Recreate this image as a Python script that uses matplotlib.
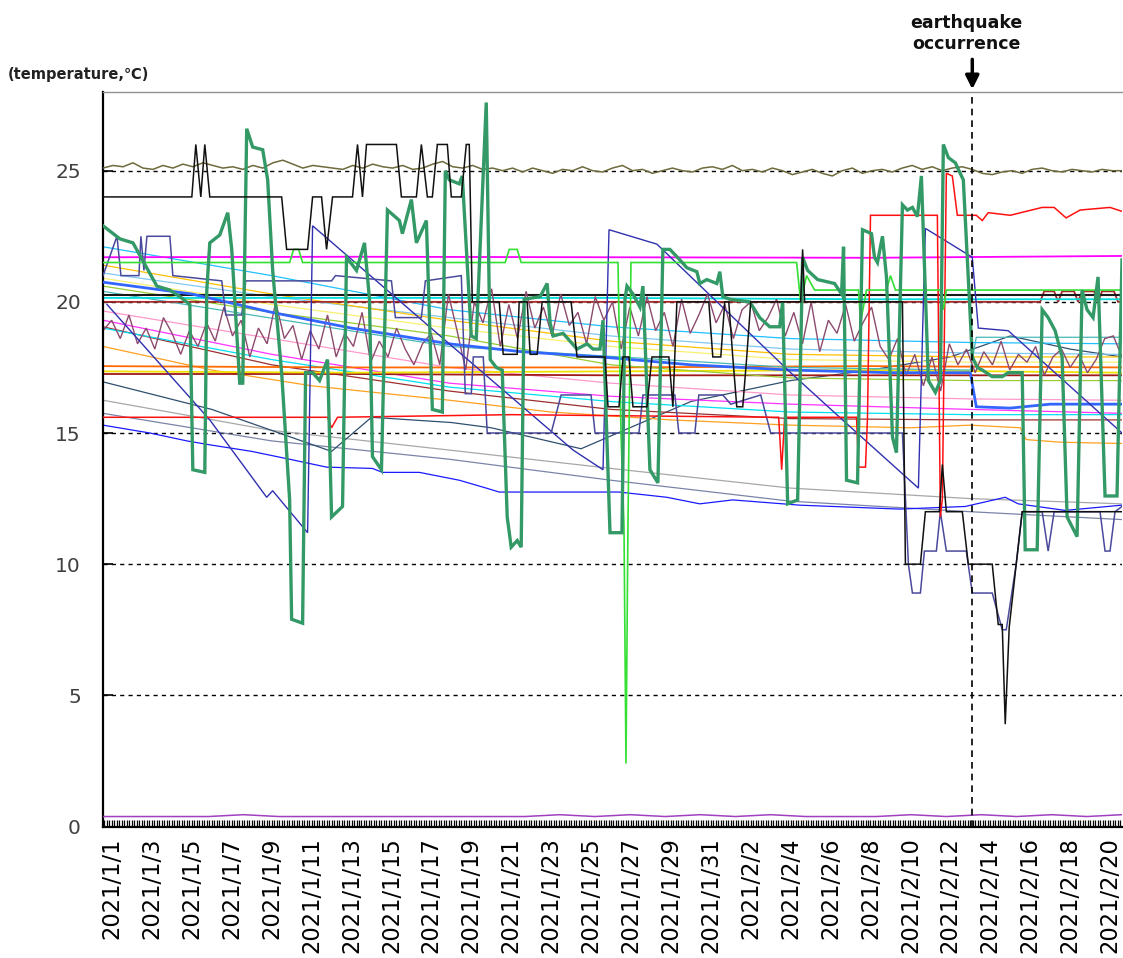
import datetime
import matplotlib
matplotlib.use("Agg")
import matplotlib.pyplot as plt
import numpy as np

plt.rcParams['font.family'] = ['DejaVu Sans']

# x is days after 2021/1/1 (data logged every 3 hours), y is temperature in C
x_left, x_right = -0.45, 50.6
quake_day = 43.1

# noisy near-25 sensor (evenly sampled across the span)
olive_t = [25.1, 25.2, 25.15, 25.3, 25.1, 25.05, 25.2, 25.1, 25.25, 25.15, 25.3, 25.2, 25.1,
           25.15, 25.05, 25.2, 25.1, 25.3, 25.4, 25.25, 25.1, 25.2, 25.15, 25.1, 25.05, 25.2,
           25.1, 25.25, 25.15, 25.1, 25.2, 25.05, 25.1, 25.25, 25.35, 25.15, 25.1, 25.2, 25.05,
           25.1, 25.0, 25.1, 24.95, 25.1, 25.0, 24.9, 25.05, 25.0, 25.15, 25.0, 24.95, 25.1,
           25.2, 25.0, 25.05, 24.9, 25.0, 25.1, 25.0, 24.95, 25.1, 25.15, 25.05, 25.2, 25.0,
           25.05, 24.95, 25.1, 25.0, 24.85, 24.95, 25.05, 24.9, 24.8, 25.0, 25.1, 24.9, 25.0,
           25.05, 24.95, 25.1, 25.2, 25.05, 25.15, 25.0, 25.1, 25.15, 25.05, 24.9, 24.85, 24.95,
           25.0, 24.9, 25.05, 25.1, 25.0, 24.95, 25.05, 25.0, 24.95, 25.05, 25.0, 25.0]

# zigzag sensor around 18-20
purple_t = [18.9, 19.3, 18.6, 19.5, 18.4, 19.0, 18.2, 19.4, 18.8, 18.0, 18.9, 18.3,
            19.2, 18.5, 19.8, 18.7, 19.3, 17.9, 19.0, 18.4, 20.0, 18.6, 19.1, 17.8,
            18.9, 18.2, 19.5, 17.9, 18.8, 18.3, 19.6, 17.7, 18.5, 17.9, 19.0, 18.2, 17.6, 18.4,
            18.8, 17.6, 20.3, 18.9, 17.4, 20.0, 19.2, 20.5, 18.3, 19.9, 18.6, 20.4, 19.0, 19.8,
            18.7, 20.3, 19.1, 19.6, 18.4, 20.2, 19.3,
            20.0, 18.2, 19.8, 18.7, 20.2, 18.9, 19.6, 18.3, 20.1, 18.8, 19.5, 20.3, 19.2, 19.9,
            18.6, 19.7, 20.0, 18.9, 19.4, 20.1, 18.7,
            19.6, 18.4, 20.0, 18.1, 19.3, 18.8, 19.9, 18.5, 19.2, 19.8, 18.3, 17.8, 18.6, 17.2,
            18.0, 16.8, 17.9, 16.6, 18.4, 17.6, 18.2,
            17.3, 18.1, 17.6, 18.5, 17.4, 18.0, 17.7, 18.3, 17.2, 17.9, 18.2, 17.5, 18.0, 17.3,
            17.8, 18.6, 18.7, 17.9]

# sensor lying at the floor of the chart
floor_t = [0.38, 0.38, 0.38, 0.38, 0.45, 0.38, 0.38, 0.38, 0.38, 0.38, 0.38, 0.38, 0.38,
           0.45, 0.38, 0.45, 0.38, 0.45, 0.38, 0.45, 0.38, 0.38, 0.38, 0.45, 0.38, 0.45, 0.38,
           0.45, 0.38, 0.45]

# big swinging sensor (thick green)
green_d = [-0.45, 0.4, 1.05, 2.25, 2.9, 3.4, 3.9, 4.05, 4.65, 4.75, 4.9, 5.4, 5.8, 6.0, 6.4,
           6.55, 6.75, 7.05, 7.55, 7.8, 8.05, 8.5, 8.9, 9.0, 9.55, 9.7, 10.05, 10.4, 10.8,
           11.0, 11.55, 11.75, 12.25, 12.65, 12.9, 13.05, 13.5, 13.8, 14.4, 14.55, 15.0,
           15.25, 15.75, 16.05, 16.55, 16.7, 16.9, 17.4, 17.55, 18.0, 18.25, 18.75, 18.95,
           19.25, 19.55, 19.8, 20.0, 20.3, 20.5, 20.65, 21.45, 21.8, 21.95, 22.1, 22.6, 23.3,
           23.8, 24.1, 24.45, 24.6, 24.95, 25.55, 25.7, 25.8, 26.1, 26.45, 26.6, 26.95, 27.35,
           27.6, 27.95, 28.45, 28.8, 29.3, 29.45, 29.8, 30.3, 30.45, 30.6, 30.95, 31.95, 32.45,
           32.95, 33.45, 33.6, 33.85, 34.35, 34.6, 34.85, 35.35, 36.2, 36.55, 36.65, 36.8,
           37.35, 37.6, 38.05, 38.2, 38.35, 38.6, 38.8, 39.1, 39.3, 39.6, 39.85, 40.1, 40.35,
           40.55, 40.9, 41.25, 41.5, 41.65, 41.9, 42.25, 42.65, 43.1, 43.35, 43.6, 44.1, 44.6,
           44.9, 45.6, 45.75, 46.35, 46.6, 46.9, 47.25, 47.6, 47.85, 48.35, 48.6, 48.85, 49.15,
           49.4, 49.75, 50.35, 50.6]
green_t = [22.9, 22.4, 22.25, 20.6, 20.45, 20.2, 19.9, 13.6, 13.5, 20.45, 22.25, 22.55, 23.4,
           22.0, 16.9, 16.9, 26.6, 25.9, 25.8, 24.65, 21.2, 17.3, 12.45, 7.9, 7.75, 17.3, 17.3,
           17.0, 17.8, 11.8, 12.2, 21.7, 21.2, 22.25, 20.1, 14.1, 13.6, 23.5, 23.1, 22.6, 23.9,
           22.25, 23.1, 15.9, 15.8, 25.0, 24.65, 24.5, 24.8, 18.7, 18.6, 27.6, 17.8, 17.5, 17.4,
           11.8, 10.65, 10.9, 10.65, 20.1, 20.2, 20.7, 19.2, 18.7, 18.8, 18.2, 18.4, 18.2, 18.2,
           19.3, 11.2, 11.2, 20.1, 20.6, 20.3, 19.8, 20.6, 13.6, 13.1, 22.0, 22.0, 21.6, 21.3,
           21.15, 20.7, 20.85, 20.7, 21.15, 20.2, 20.1, 20.0, 19.4, 19.05, 19.05, 20.0, 12.3,
           12.45, 21.7, 21.2, 20.85, 20.7, 20.3, 22.1, 13.2, 13.1, 22.75, 22.6, 21.7, 21.5, 22.5,
           20.95, 14.85, 14.25, 23.7, 23.5, 23.6, 23.25, 24.8, 17.0, 16.55, 17.0, 26.0, 25.5,
           25.3, 24.65, 17.9, 17.5, 17.4, 17.15, 17.15, 17.3, 17.3, 10.55, 10.55, 19.7, 19.4,
           18.9, 17.9, 11.8, 11.05, 20.45, 19.7, 19.4, 20.95, 12.6, 12.6, 21.6]

# step sensor (thin black)
black_d = [-0.45, 4.0, 4.2, 4.45, 4.65, 4.9, 8.5, 8.75, 9.8, 10.05, 10.5, 10.75, 11.05, 12.05,
           12.3, 12.55, 12.75, 14.25, 14.5, 15.25, 15.5, 15.8, 16.05, 16.3, 16.8, 17.0, 17.5,
           17.75, 17.9, 18.05, 19.4, 19.6, 20.3, 20.4, 20.8, 20.95, 21.3, 21.55, 23.0, 23.3,
           24.7, 24.85, 25.4, 25.6, 25.9, 26.1, 26.8, 27.05, 27.9, 28.1, 28.3, 29.9, 30.1,
           30.5, 30.7, 30.9, 31.1, 31.3, 31.6, 31.8, 32.0, 34.5, 34.6, 34.7, 39.6, 39.75, 40.5,
           40.75, 41.45, 41.6, 41.8, 42.6, 42.9, 44.1, 44.4, 44.6, 44.75, 44.95, 45.3, 45.6,
           50.6]
black_t = [24, 24, 26, 24, 26, 24, 24, 22, 22, 24, 24, 22, 24, 24,
           26, 24, 26, 26, 24, 24, 26, 24, 24, 26, 26, 24, 24,
           26, 26, 20.0, 20.0, 18.0, 18.0, 20.0, 20.0, 18.0, 18.0, 20.0, 20.0, 17.9,
           17.9, 16.0, 16.0, 17.9, 17.9, 16.0, 16.0, 17.9, 17.9, 16.0, 20.0, 20.0, 17.9,
           17.9, 20.0, 20.0, 17.9, 16.0, 16.0, 17.9, 20.0, 20.0, 22.0, 20.0, 20.0, 10.0, 10.0,
           12.0, 12.0, 13.8, 12.0, 12.0, 10.0, 10.0, 7.7, 7.7, 3.9, 7.6, 10.0, 12.0,
           12.0]

# sawtooth sensor (medium blue, straight falls then resets)
saw_d = [-0.25, 4.9, 7.75, 8.05, 9.8, 10.05, 16.9, 23.1, 24.6, 24.9, 27.3, 34.0, 36.6,
         40.4, 40.75, 43.1, 43.4, 44.9, 50.6]
saw_t = [19.9, 15.5, 12.55, 12.8, 11.2, 22.9, 18.4, 14.35, 13.6, 22.75, 22.2, 17.3, 15.5,
         12.9, 22.8, 21.7, 19.0, 18.9, 15.0]

# slate blue step sensor
navy_d = [-0.45, 0.25, 0.45, 1.35, 1.45, 1.6, 1.75, 2.9, 3.05, 5.5, 5.7, 6.5, 6.7, 11.0,
          11.2, 14.0, 14.2, 15.5, 15.7, 17.5, 17.7, 18.0, 18.1, 18.6, 18.8, 22.0, 22.5, 24.0,
          24.2, 26.4, 26.6, 28.2, 28.4, 29.2, 29.4, 30.6, 31.0, 32.5, 33.0, 39.6, 39.9, 40.1,
          40.5, 40.7, 41.3, 41.5, 41.8, 42.8, 43.1, 44.1, 44.6, 44.8, 45.3, 45.6, 46.6, 46.9,
          47.2, 49.5, 49.75, 50.0, 50.25, 50.6]
navy_t = [21.0, 22.5, 21.0, 21.0, 22.5, 21.2, 22.5, 22.5, 21.0, 20.8, 19.5, 19.5, 20.8, 20.8,
          21.0, 20.8, 19.4, 19.4, 20.8, 21.0, 16.5, 16.5, 17.9, 17.9, 15.0, 15.0, 16.45, 16.45,
          15.0, 15.0, 16.45, 16.45, 15.0, 15.0, 16.45, 16.45, 16.1, 16.45, 15.0, 15.0, 10.0,
          8.9, 8.9, 10.5, 10.5, 12.0, 10.5, 10.5, 8.9, 8.9, 7.5, 7.5, 10.0, 12.0, 12.0, 10.5,
          12.0, 12.0, 10.5, 10.5, 12.0, 12.2]

# bright green sensor with the deep drop on 1/27
lime_d = [-0.45, 8.9, 9.1, 9.35, 9.55, 19.7, 19.9, 20.3, 20.5, 25.35, 25.5, 25.65, 25.75,
          25.85, 26.0, 34.3, 34.5, 34.8, 35.2, 37.4, 37.5, 37.8, 38.8, 39.0, 39.25, 41.5,
          41.65, 41.8, 50.6]
lime_t = [21.5, 21.5, 22.0, 22.0, 21.5, 21.5, 22.0, 22.0, 21.5, 21.5, 15.0, 11.5, 2.4,
          11.5, 21.5, 21.5, 20.0, 21.0, 20.45, 20.45, 19.2, 20.45, 20.45, 21.0, 20.45, 20.45,
          19.7, 20.45, 20.45]

# red sensor that jumps up before the quake
red_d = [-0.45, 10.8, 11.0, 11.3, 20.0, 33.4, 33.55, 33.7, 37.3, 37.4, 37.75, 37.85, 38.0,
         41.35, 41.5, 41.6, 41.8, 42.1, 42.35, 43.3, 43.6, 43.9, 45.0, 46.6, 47.2, 47.8,
         48.5, 50.0, 50.6]
red_t = [15.6, 15.6, 15.2, 15.6, 15.7, 15.6, 13.6, 15.6, 15.6, 13.7, 13.7, 15.6, 23.3,
         23.3, 11.8, 12.5, 24.9, 24.8, 23.3, 23.3, 23.1, 23.4, 23.3, 23.6, 23.6, 23.2,
         23.5, 23.6, 23.45]

# slowly drifting sensors (day, value) pairs
drift_d = [-0.45, 8.0, 16.9, 25.0, 34.0, 43.0, 50.6]
skyblue_t = [22.1, 21.0, 19.7, 19.05, 18.6, 18.45, 18.4]
gold_t = [21.4, 20.3, 19.3, 18.5, 18.0, 17.9, 17.9]
lightblue_t = [21.1, 20.2, 19.4, 18.7, 18.2, 18.05, 18.0]
paleyellow_t = [20.9, 19.9, 19.0, 18.3, 17.8, 17.7, 17.7]
yellowgreen_t = [20.6, 19.6, 18.7, 17.6, 17.1, 17.0, 17.0]
pink_t = [19.65, 18.6, 17.5, 16.9, 16.45, 16.3, 16.25]
magenta2_t = [19.3, 18.0, 16.9, 16.4, 16.1, 15.9, 15.75]
cyan2_t = [19.0, 17.8, 16.75, 16.2, 15.8, 15.7, 15.7]
brown2_t = [19.05, 17.6, 16.6, 15.9, 15.55, 15.5, 15.5]
gray_t = [16.25, 15.1, 14.35, 13.65, 12.9, 12.5, 12.3]
slategray_t = [15.75, 14.7, 14.0, 13.2, 12.4, 12.0, 11.7]

royal_d = [-0.45, 4.0, 8.0, 12.0, 16.9, 20.5, 24.5, 29.0, 34.0, 39.0, 43.0, 43.3, 45.0,
           47.0, 50.6]
royal_t = [20.75, 20.3, 19.6, 19.0, 18.4, 18.1, 17.9, 17.6, 17.4, 17.3, 17.3, 16.0, 15.95,
           16.1, 16.1]

aqua_d = [-0.45, 16.9, 34.0, 43.0, 43.3, 50.6]
aqua_t = [20.4, 18.3, 17.5, 17.4, 18.65, 18.65]

orange_d = [-0.45, 5.0, 10.0, 16.9, 22.0, 28.0, 34.0, 40.0, 43.0, 45.5, 45.8, 47.5, 50.6]
orange_t = [18.3, 17.4, 16.8, 16.25, 15.8, 15.5, 15.3, 15.2, 15.3, 15.2, 14.75, 14.65, 14.6]

slate_d = [-0.45, 5.0, 11.0, 13.0, 17.0, 19.0, 23.5, 29.0, 34.0, 38.0, 42.0, 45.0, 48.0,
           50.6]
slate_t = [16.95, 15.9, 14.3, 15.6, 15.4, 15.2, 14.4, 16.2, 17.0, 17.4, 17.9, 18.7, 18.2,
           17.9]

blue_d = [-0.45, 1.9, 3.75, 4.9, 7.0, 8.9, 10.75, 13.05, 13.55, 15.4, 17.4, 18.75, 19.4,
          25.4, 27.8, 29.45, 31.1, 34.45, 39.45, 42.75, 44.75, 45.4, 47.75, 50.6]
blue_t = [15.3, 15.0, 14.7, 14.55, 14.3, 14.0, 13.7, 13.65, 13.5, 13.5, 13.2, 12.9, 12.75,
          12.75, 12.55, 12.3, 12.45, 12.25, 12.1, 12.2, 12.55, 12.3, 12.05, 12.25]

flat_d = [-0.45, 12.0, 25.0, 38.0, 50.6]
darkorange_t = [17.55, 17.5, 17.5, 17.55, 17.5]
yellow_t = [17.35, 17.3, 17.35, 17.4, 17.3]
darkred_t = [17.25, 17.25, 17.2, 17.2, 17.2]
cyanline_t = [20.15, 20.15, 20.15, 20.1, 20.1]
blackline_t = [20.25, 20.25, 20.25, 20.25, 20.25]
magenta_t = [21.7, 21.72, 21.7, 21.68, 21.75]

brown_d = [-0.45, 46.5, 46.7, 47.2, 47.4, 47.6, 48.2, 48.4, 48.6, 49.2, 49.4, 49.6, 50.2,
           50.4, 50.6]
brown_t = [20.0, 20.0, 20.4, 20.4, 20.0, 20.4, 20.4, 20.0, 20.4, 20.4, 20.0, 20.4, 20.4,
           20.0, 20.0]

fig = plt.figure(figsize=(11.23, 9.58), dpi=100)
ax = fig.add_axes([103 / 1123, 131.5 / 958, 1019 / 1123, 734.5 / 958])

def line(d, t, color, lw=0.9, z=2):
    ax.plot(d, t, color=color, lw=lw, zorder=z, solid_joinstyle='miter')

# thin drifting lines first
line(drift_d, gray_t, '#a8a8a8')
line(drift_d, slategray_t, '#7a84a8')
line(blue_d, blue_t, '#1a1aff')
line(slate_d, slate_t, '#2f4f6f')
line(orange_d, orange_t, '#ffa020')
line(drift_d, brown2_t, '#9c2f2f')
line(drift_d, cyan2_t, '#00e0f0')
line(drift_d, magenta2_t, '#ff33ff')
line(drift_d, pink_t, '#ff99cc')
line(flat_d, darkred_t, '#a01818', 1.3)
line(flat_d, yellow_t, '#f0e000', 1.3)
line(flat_d, darkorange_t, '#ff6a00', 1.3)
line(drift_d, yellowgreen_t, '#99cc33')
line(drift_d, paleyellow_t, '#f8f070')
line(drift_d, lightblue_t, '#80c8f0')
line(drift_d, gold_t, '#ffc000')
line(aqua_d, aqua_t, '#48b8b8')
line(drift_d, skyblue_t, '#20c0ff')
line(brown_d, brown_t, '#a52a2a', 1.3)
line(flat_d, cyanline_t, '#00dddd', 1.3)
line(flat_d, blackline_t, '#1a1a1a', 1.5)
line(flat_d, magenta_t, '#ff00ff', 1.3)
line(np.linspace(x_left, x_right, len(purple_t)), purple_t, '#8c4a6e', 1.0)
line(royal_d, royal_t, '#3366ff', 2.0, 3)
line(saw_d, saw_t, '#3030b0', 1.0, 3)
line(navy_d, navy_t, '#4a4a9c', 1.1, 3)
line(red_d, red_t, '#ff1010', 1.1, 3)
line(lime_d, lime_t, '#33e033', 1.2, 3)
line(np.linspace(x_left, x_right, len(olive_t)), olive_t, '#6e6a3c', 1.1, 3)
line(green_d, green_t, '#339966', 2.4, 4)
line(black_d, black_t, '#111111', 1.1, 5)
line(np.linspace(x_left, x_right, len(floor_t)), floor_t, '#a040c0', 1.1, 3)

# dashed grid at 5-degree steps
for g in [5, 10, 15, 20, 25]:
    ax.axhline(g, color='black', lw=1.0, ls=(0, (3, 3)), zorder=1)

ax.set_xlim(x_left, x_right)
ax.set_ylim(0, 28)

# a tick for every 3-hour sample, a label every two days
label_days = list(range(0, 51, 2))
start = datetime.date(2021, 1, 1)
labels = []
for d in label_days:
    day = start + datetime.timedelta(days=d)
    labels.append(f"{day.year}/{day.month}/{day.day}")
ax.set_xticks(label_days)
ax.set_xticklabels(labels, rotation=90, fontsize=16.3)
ax.set_xticks(np.arange(-0.375, 50.6, 0.125), minor=True)
ax.tick_params(axis='x', which='both', direction='in', length=5, width=0.9, pad=8)

ax.set_yticks([0, 5, 10, 15, 20, 25])
ax.set_yticklabels(['0', '5', '10', '15', '20', '25'], fontsize=14.5, color='#404040')
ax.tick_params(axis='y', direction='in', length=7, width=1.2, pad=16)

ax.spines['left'].set_linewidth(1.6)
ax.spines['bottom'].set_linewidth(1.6)
ax.spines['top'].set_color('#909090')
ax.spines['top'].set_linewidth(1.0)
ax.spines['right'].set_visible(False)

# earthquake marker
ax.axvline(quake_day, color='black', lw=1.2, ls=(0, (4, 3)), zorder=6)
ax.annotate('', xy=(quake_day, 28.0), xytext=(quake_day, 29.35),
            arrowprops=dict(arrowstyle='-|>', color='black', lw=2.5, mutation_scale=20),
            annotation_clip=False)
ax.text(quake_day - 0.3, 29.5, 'earthquake\noccurrence', ha='center', va='bottom',
        fontsize=12.5, fontweight='bold', linespacing=1.2, color='#111111', clip_on=False)

fig.text(8 / 1123, 1 - 75 / 958, '(temperature,\u2103)', fontsize=10.5, fontweight='bold',
         va='center', ha='left', color='#222222')

fig.savefig('out.png', dpi=100)
